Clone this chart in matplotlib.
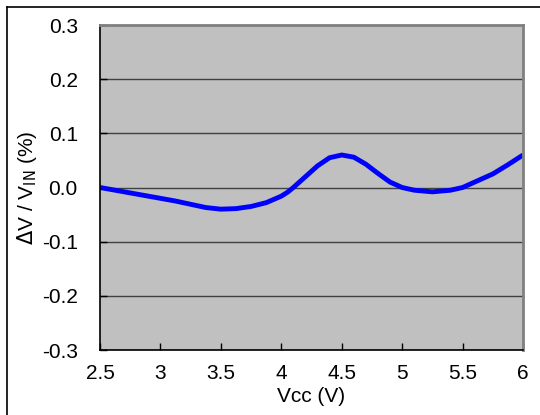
import numpy as np
import matplotlib.pyplot as plt
from matplotlib.lines import Line2D

plt.rcParams['font.family'] = ['Liberation Sans', 'DejaVu Sans']

# Vcc (V) vs deviation (%)
vcc = [2.5, 2.625, 2.75, 2.875, 3.0, 3.125, 3.25, 3.375, 3.5, 3.625, 3.75, 3.875,
       4.0, 4.05, 4.1, 4.2, 4.3, 4.4, 4.5, 4.6, 4.7, 4.8, 4.9, 5.0,
       5.1, 5.25, 5.4, 5.5, 5.6, 5.75, 5.875, 6.0]
dev = [0.0, -0.005, -0.01, -0.015, -0.02, -0.025, -0.031, -0.037, -0.04, -0.039, -0.035, -0.028,
       -0.016, -0.009, 0.0, 0.02, 0.04, 0.055, 0.06, 0.056, 0.043, 0.026, 0.01, 0.0,
       -0.005, -0.008, -0.005, 0.0, 0.01, 0.025, 0.042, 0.06]
xticks = [2.5, 3, 3.5, 4, 4.5, 5, 5.5, 6]
xlabels = ['2.5', '3', '3.5', '4', '4.5', '5', '5.5', '6']
yticks = [-0.3, -0.2, -0.1, 0.0, 0.1, 0.2, 0.3]
ylabels = ['-0.3', '-0.2', '-0.1', '0.0', '0.1', '0.2', '0.3']

fig = plt.figure(figsize=(5.4, 4.15), dpi=100)
ax = fig.add_axes([100/540, 65/415, 423/540, 325/415])
ax.set_facecolor('#c0c0c0')

ax.plot(vcc, dev, color='#0000ff', lw=3.5, solid_capstyle='butt', solid_joinstyle='round')

ax.set_xlim(2.5, 6)
ax.set_ylim(-0.3, 0.3)
ax.set_xticks(xticks)
ax.set_xticklabels(xlabels)
ax.set_yticks(yticks)
ax.set_yticklabels(ylabels)
ax.tick_params(direction='in', length=5, width=1, labelsize=15)
ax.tick_params(axis='y', pad=16)
ax.tick_params(axis='x', pad=10)
ax.yaxis.grid(True, color='#404040', lw=1)
ax.set_axisbelow(True)

for s in ['left', 'bottom']:
    ax.spines[s].set_color('black')
    ax.spines[s].set_linewidth(1.2)
for s in ['top', 'right']:
    ax.spines[s].set_color('#808080')
    ax.spines[s].set_linewidth(2)

ax.set_xlabel('Vcc (V)', fontsize=15, labelpad=3)
ax.set_ylabel(r'$\Delta$V / V$_{\mathrm{IN}}$ (%)', fontsize=15, labelpad=2)

# outer frame (top and left edges visible)
fig.add_artist(Line2D([7/540, 1], [1 - 7/415, 1 - 7/415], color='black', lw=1.2, transform=fig.transFigure))
fig.add_artist(Line2D([7/540, 7/540], [0, 1 - 7/415], color='black', lw=1.2, transform=fig.transFigure))

fig.savefig('out.png', dpi=100)
